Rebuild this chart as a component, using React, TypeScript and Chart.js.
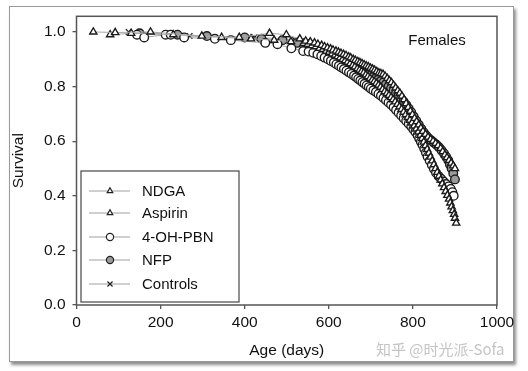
import React, { useEffect, useRef } from "react";
import { Chart, registerables } from "chart.js";
import { drawPoint } from "chart.js/helpers";

Chart.register(...registerables);

const seriesNames = ["NDGA", "Aspirin", "4-OH-PBN", "NFP", "Controls"];
const yTickValues = [0, 0.2, 0.4, 0.6, 0.8, 1.0];
const xTickValues = [0, 200, 400, 600, 800, 1000];

const ndgaAges = [40, 92, 176, 298, 387, 459, 499, 531, 545, 556, 566, 574, 583, 590, 597, 604, 610, 617, 623, 629, 635, 641, 647, 652, 658, 663, 669, 674, 679, 684, 689, 694, 699, 704, 709, 714, 719, 724, 729, 734, 739, 744, 749, 754, 759, 764, 769, 774, 779, 784, 789, 794, 799, 804, 809, 814, 819, 824, 830, 836, 842, 848, 854, 860, 866, 871, 876, 881, 886, 891, 896, 900];
const ndgaSurv = [1.0, 0.998, 1.0, 0.985, 0.98, 0.995, 0.99, 0.975, 0.967, 0.964, 0.96, 0.955, 0.951, 0.946, 0.942, 0.938, 0.934, 0.93, 0.926, 0.922, 0.918, 0.914, 0.909, 0.905, 0.9, 0.896, 0.892, 0.888, 0.884, 0.88, 0.876, 0.872, 0.868, 0.864, 0.86, 0.855, 0.85, 0.848, 0.845, 0.838, 0.83, 0.822, 0.815, 0.805, 0.795, 0.785, 0.776, 0.765, 0.752, 0.738, 0.724, 0.71, 0.697, 0.684, 0.672, 0.66, 0.648, 0.636, 0.625, 0.615, 0.607, 0.6, 0.592, 0.584, 0.574, 0.562, 0.55, 0.54, 0.53, 0.52, 0.51, 0.5];

const aspirinAges = [80, 130, 230, 345, 415, 470, 510, 540, 550, 560, 569, 578, 586, 594, 601, 608, 615, 621, 627, 633, 639, 645, 651, 657, 662, 668, 673, 678, 683, 688, 693, 698, 703, 708, 713, 718, 723, 728, 733, 738, 743, 748, 753, 758, 763, 768, 773, 778, 783, 788, 793, 798, 803, 808, 813, 818, 822, 826, 830, 834, 838, 842, 846, 850, 854, 858, 862, 866, 870, 874, 878, 882, 886, 889, 892, 895, 898, 900, 903];
const aspirinSurv = [0.99, 0.995, 0.99, 0.98, 0.975, 0.97, 0.965, 0.958, 0.955, 0.95, 0.946, 0.94, 0.936, 0.93, 0.926, 0.92, 0.915, 0.91, 0.905, 0.9, 0.895, 0.89, 0.884, 0.878, 0.872, 0.866, 0.86, 0.855, 0.85, 0.843, 0.837, 0.83, 0.824, 0.818, 0.812, 0.805, 0.798, 0.79, 0.782, 0.775, 0.768, 0.76, 0.752, 0.744, 0.735, 0.726, 0.717, 0.707, 0.697, 0.687, 0.677, 0.667, 0.656, 0.645, 0.634, 0.622, 0.61, 0.597, 0.584, 0.57, 0.556, 0.542, 0.528, 0.514, 0.5, 0.486, 0.472, 0.458, 0.444, 0.43, 0.416, 0.402, 0.388, 0.374, 0.36, 0.346, 0.332, 0.318, 0.3];

const pbnAges = [144, 161, 212, 224, 256, 329, 367, 449, 478, 511, 539, 552, 563, 573, 582, 590, 598, 605, 612, 618, 624, 630, 636, 642, 648, 654, 660, 665, 670, 675, 680, 685, 690, 695, 700, 706, 712, 718, 724, 730, 736, 742, 748, 754, 760, 766, 772, 778, 784, 790, 796, 801, 806, 811, 815, 819, 823, 827, 831, 835, 840, 845, 850, 855, 861, 867, 873, 879, 885, 890, 894, 897];
const pbnSurv = [0.99, 0.98, 0.99, 0.99, 0.98, 0.975, 0.97, 0.96, 0.955, 0.94, 0.93, 0.928, 0.924, 0.918, 0.912, 0.906, 0.9, 0.894, 0.888, 0.882, 0.876, 0.87, 0.864, 0.858, 0.852, 0.846, 0.84, 0.834, 0.828, 0.822, 0.816, 0.81, 0.804, 0.798, 0.792, 0.786, 0.78, 0.773, 0.766, 0.758, 0.75, 0.742, 0.733, 0.724, 0.714, 0.704, 0.694, 0.684, 0.674, 0.664, 0.654, 0.644, 0.634, 0.622, 0.61, 0.598, 0.586, 0.572, 0.558, 0.543, 0.528, 0.513, 0.498, 0.484, 0.472, 0.462, 0.452, 0.443, 0.434, 0.425, 0.413, 0.4];

const nfpAges = [150, 240, 310, 400, 440, 490, 525, 548, 560, 570, 580, 589, 597, 605, 612, 619, 626, 633, 640, 646, 652, 658, 664, 670, 676, 682, 688, 694, 700, 706, 712, 718, 724, 730, 736, 742, 748, 754, 760, 766, 772, 778, 784, 790, 796, 802, 808, 814, 820, 826, 832, 838, 844, 850, 856, 862, 868, 874, 879, 884, 888, 892, 896, 900];
const nfpSurv = [0.995, 0.99, 0.985, 0.98, 0.975, 0.97, 0.96, 0.952, 0.948, 0.944, 0.94, 0.934, 0.928, 0.922, 0.917, 0.912, 0.907, 0.902, 0.897, 0.892, 0.886, 0.88, 0.874, 0.868, 0.862, 0.856, 0.85, 0.845, 0.84, 0.835, 0.83, 0.825, 0.82, 0.815, 0.808, 0.8, 0.793, 0.785, 0.776, 0.766, 0.756, 0.745, 0.733, 0.72, 0.706, 0.69, 0.675, 0.66, 0.645, 0.632, 0.62, 0.61, 0.602, 0.594, 0.587, 0.578, 0.567, 0.555, 0.543, 0.53, 0.515, 0.5, 0.482, 0.46];

const controlAges = [124, 232, 269, 423, 491, 520, 546, 557, 567, 577, 586, 595, 603, 611, 618, 625, 632, 639, 645, 651, 657, 663, 669, 675, 681, 687, 693, 699, 705, 711, 717, 723, 729, 735, 741, 747, 753, 759, 765, 771, 777, 783, 789, 795, 801, 807, 813, 819, 825, 831, 837, 843, 849, 855, 861, 867, 872, 877, 882, 886, 890, 893];
const controlSurv = [1.0, 0.99, 0.985, 0.98, 0.975, 0.97, 0.962, 0.958, 0.953, 0.948, 0.943, 0.938, 0.933, 0.928, 0.923, 0.918, 0.913, 0.907, 0.901, 0.896, 0.89, 0.884, 0.878, 0.872, 0.865, 0.858, 0.851, 0.844, 0.837, 0.83, 0.823, 0.815, 0.807, 0.799, 0.791, 0.782, 0.773, 0.764, 0.754, 0.744, 0.733, 0.722, 0.71, 0.698, 0.685, 0.672, 0.659, 0.645, 0.632, 0.621, 0.612, 0.605, 0.598, 0.591, 0.583, 0.573, 0.562, 0.55, 0.538, 0.526, 0.512, 0.5];

const FONT = "'Liberation Sans', Arial, Helvetica, sans-serif";

const styles = [
  { pointStyle: "triangle", fill: "#ffffff", radius: 4.2 },
  { pointStyle: "triangle", fill: "#ffffff", radius: 4.2 },
  { pointStyle: "circle", fill: "#ffffff", radius: 4.3 },
  { pointStyle: "circle", fill: "#9a9a9a", radius: 4.3 },
  { pointStyle: "crossRot", fill: "#000000", radius: 4 },
];

function toPoints(ages: number[], surv: number[]) {
  return ages.map((a, i) => ({ x: a, y: surv[i] }));
}

export default function App() {
  const ref = useRef<HTMLCanvasElement | null>(null);

  useEffect(() => {
    document.body.style.margin = "0";
    const canvas = ref.current;
    if (!canvas) return;
    const allData = [
      toPoints(ndgaAges, ndgaSurv),
      toPoints(aspirinAges, aspirinSurv),
      toPoints(pbnAges, pbnSurv),
      toPoints(nfpAges, nfpSurv),
      toPoints(controlAges, controlSurv),
    ];

    const decor = {
      id: "decor",
      afterDraw(chart: any) {
        const { ctx, chartArea } = chart;
        const { left, right, top, bottom } = chartArea;
        ctx.save();
        ctx.strokeStyle = "#555";
        ctx.lineWidth = 1.5;
        ctx.strokeRect(left, top, right - left, bottom - top);

        ctx.fillStyle = "#111";
        ctx.font = `15px ${FONT}`;
        ctx.textAlign = "center";
        ctx.textBaseline = "middle";
        ctx.fillText("Females", right - 60, top + 25);

        const bx = left + 4.5;
        const by = bottom - 134;
        const bw = 158;
        const bh = 131;
        ctx.fillStyle = "#ffffff";
        ctx.fillRect(bx, by, bw, bh);
        ctx.strokeStyle = "#555";
        ctx.lineWidth = 1.3;
        ctx.strokeRect(bx, by, bw, bh);
        const rowY = [20, 42, 66, 89, 113];
        seriesNames.forEach((name, i) => {
          const y = by + rowY[i];
          ctx.strokeStyle = "#a0a0a0";
          ctx.lineWidth = 1;
          ctx.beginPath();
          ctx.moveTo(bx + 8, y);
          ctx.lineTo(bx + 49, y);
          ctx.stroke();
          const st = styles[i];
          ctx.fillStyle = st.fill;
          ctx.strokeStyle = "#222";
          ctx.lineWidth = 1.2;
          drawPoint(ctx, { pointStyle: st.pointStyle, radius: st.pointStyle === "triangle" ? 3.2 : 3.6, rotation: 0, borderWidth: 1.2 } as any, bx + 29, y);
          ctx.fillStyle = "#111";
          ctx.font = `15px ${FONT}`;
          ctx.textAlign = "left";
          ctx.textBaseline = "middle";
          ctx.fillText(name, bx + 61, y + 1);
        });

        ctx.fillStyle = "#c4c4c4";
        ctx.font = `15px 'Noto Sans CJK SC', sans-serif`;
        ctx.textAlign = "left";
        ctx.textBaseline = "middle";
        ctx.fillText("知乎 @时光派-Sofa", 376, 349);
        ctx.restore();
      },
    };

    const chart = new Chart(canvas, {
      type: "line",
      data: {
        datasets: allData.map((d, i) => ({
          label: seriesNames[i],
          data: d,
          borderColor: "#a8a8a8",
          borderWidth: 1,
          pointStyle: styles[i].pointStyle as any,
          pointRadius: styles[i].radius,
          pointBackgroundColor: styles[i].fill,
          pointBorderColor: "#1a1a1a",
          pointBorderWidth: 1.35,
          tension: 0,
          fill: false,
        })),
      },
      options: {
        animation: false,
        responsive: false,
        devicePixelRatio: 1,
        layout: { padding: { top: 10, right: 31, left: 0, bottom: 0 } },
        plugins: { legend: { display: false }, tooltip: { enabled: false } },
        scales: {
          x: {
            type: "linear",
            min: 0,
            max: 1000,
            afterFit: (s: any) => { s.height = 66; },
            afterBuildTicks: (s: any) => { s.ticks = xTickValues.map((v) => ({ value: v })); },
            border: { display: false },
            grid: { drawOnChartArea: false, drawTicks: true, tickLength: 4, color: "#555", lineWidth: 1.3 },
            ticks: { color: "#111", font: { family: FONT, size: 15.5 }, padding: 4, maxRotation: 0, callback: (v: any) => String(v) },
            title: { display: true, text: "Age (days)", color: "#111", font: { family: FONT, size: 15.5 }, padding: { top: 0, bottom: 11 } },
          },
          y: {
            type: "linear",
            min: 0,
            max: 1.0573,
            afterFit: (s: any) => { s.width = 76.5; },
            afterBuildTicks: (s: any) => { s.ticks = yTickValues.map((v) => ({ value: v })); },
            border: { display: false },
            grid: { drawOnChartArea: false, drawTicks: true, tickLength: 4, color: "#555", lineWidth: 1.3 },
            ticks: { color: "#111", font: { family: FONT, size: 15.5 }, padding: 7, callback: (v: any) => Number(v).toFixed(1) },
            title: { display: true, text: "Survival", color: "#111", font: { family: FONT, size: 15.5 }, padding: { top: 9, bottom: 0 } },
          },
        },
      },
      plugins: [decor],
    });
    return () => chart.destroy();
  }, []);

  return (
    <div style={{ position: "relative", width: 528, height: 371, background: "#fff", overflow: "hidden" }}>
      <div
        style={{
          position: "absolute",
          left: 9,
          top: 6,
          width: 503,
          height: 354,
          border: "1px solid #9a9a9a",
          boxShadow: "2px 3px 3px rgba(0,0,0,0.45)",
          background: "#fff",
        }}
      />
      <canvas ref={ref} width={528} height={371} style={{ position: "absolute", left: 0, top: 0, width: 528, height: 371 }} />
    </div>
  );
}
